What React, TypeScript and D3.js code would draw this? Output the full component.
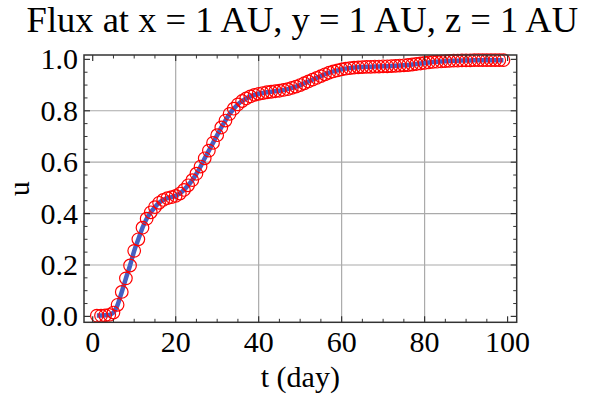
import React from "react";
import * as d3 from "d3";

const days: number[] = d3.range(1, 100);
const uValues: number[] = [
  0.003, 0.003, 0.004, 0.006, 0.015, 0.045, 0.095, 0.148, 0.198, 0.255,
  0.3, 0.345, 0.38, 0.405, 0.425, 0.442, 0.453, 0.46, 0.464, 0.469,
  0.478, 0.492, 0.51, 0.53, 0.555, 0.583, 0.615, 0.645, 0.675, 0.705,
  0.735, 0.762, 0.788, 0.808, 0.825, 0.838, 0.848, 0.856, 0.862, 0.866,
  0.869, 0.872, 0.874, 0.876, 0.878, 0.881, 0.884, 0.889, 0.894, 0.9,
  0.907, 0.914, 0.921, 0.928, 0.935, 0.942, 0.948, 0.953, 0.957, 0.961,
  0.964, 0.966, 0.968, 0.969, 0.97, 0.971, 0.971, 0.972, 0.972, 0.973,
  0.973, 0.974, 0.975, 0.976, 0.977, 0.978, 0.98, 0.982, 0.984, 0.986,
  0.988, 0.99, 0.991, 0.992, 0.993, 0.994, 0.995, 0.995, 0.996, 0.996,
  0.996, 0.997, 0.997, 0.997, 0.997, 0.997, 0.997, 0.997, 0.997,
];
const xTicks: number[] = [0, 20, 40, 60, 80, 100];
const yTicks: number[] = [0, 0.2, 0.4, 0.6, 0.8, 1.0];
const xGrid: number[] = [20, 40, 60, 80];
const yGrid: number[] = [0.2, 0.4, 0.6, 0.8];
const title = "Flux at x = 1 AU, y = 1 AU, z = 1 AU";
const xLabel = "t (day)";
const yLabel = "u";

const W = 591;
const H = 401;
const L = 84, R = 516.7, T = 55, B = 322.3;

export default function App() {
  const x = d3.scaleLinear().domain([-2.1, 102.2]).range([L, R]);
  const y = d3.scaleLinear().domain([-0.023, 1.017]).range([B, T]);
  const data = days.map((d, i) => ({ t: d, u: uValues[i] }));
  const line = d3
    .line<{ t: number; u: number }>()
    .x((d) => x(d.t))
    .y((d) => y(d.u))
    .curve(d3.curveMonotoneX);

  const xMinor = d3.range(0, 101, 5).filter((v) => v % 20 !== 0);
  const yMinor = d3.range(0, 21).map((v) => v * 0.05).filter((v, i) => i % 4 !== 0);
  const font = "'Liberation Serif', 'Times New Roman', serif";
  const frame = "#333";
  const major = 6, minor = 3.5;

  return (
    <svg
      width={W}
      height={H}
      style={{ position: "absolute", left: 0, top: 0, background: "#fff" }}
      fontFamily={font}
    >
      <rect x={0} y={0} width={W} height={H} fill="#fff" />
      <text x={(L + R) / 2 + 2} y={32} fontSize={36.5} textAnchor="middle" fill="#000">
        {title}
      </text>
      {xGrid.map((v) => (
        <line key={"gx" + v} x1={x(v)} x2={x(v)} y1={T} y2={B} stroke="#aaa" strokeWidth={1.2} />
      ))}
      {yGrid.map((v) => (
        <line key={"gy" + v} x1={L} x2={R} y1={y(v)} y2={y(v)} stroke="#aaa" strokeWidth={1.2} />
      ))}
      <path d={line(data) || ""} fill="none" stroke="#4660c2" strokeWidth={4.5} />
      {data.map((d) => (
        <circle key={"c" + d.t} cx={x(d.t)} cy={y(d.u)} r={6.3} fill="none" stroke="#ff0000" strokeWidth={1.2} />
      ))}
      <rect x={L} y={T} width={R - L} height={B - T} fill="none" stroke={frame} strokeWidth={1.5} />
      {xTicks.map((v) => (
        <g key={"xt" + v}>
          <line x1={x(v)} x2={x(v)} y1={B} y2={B - major} stroke={frame} strokeWidth={1.2} />
          <line x1={x(v)} x2={x(v)} y1={T} y2={T + major} stroke={frame} strokeWidth={1.2} />
          <text x={x(v)} y={352} fontSize={30} textAnchor="middle" fill="#000">
            {v}
          </text>
        </g>
      ))}
      {xMinor.map((v) => (
        <g key={"xm" + v}>
          <line x1={x(v)} x2={x(v)} y1={B} y2={B - minor} stroke={frame} strokeWidth={1} />
          <line x1={x(v)} x2={x(v)} y1={T} y2={T + minor} stroke={frame} strokeWidth={1} />
        </g>
      ))}
      {yTicks.map((v) => (
        <g key={"yt" + v}>
          <line x1={L} x2={L + major} y1={y(v)} y2={y(v)} stroke={frame} strokeWidth={1.2} />
          <line x1={R} x2={R - major} y1={y(v)} y2={y(v)} stroke={frame} strokeWidth={1.2} />
          <text x={78} y={y(v) + 10} fontSize={30} textAnchor="end" fill="#000">
            {d3.format(".1f")(v)}
          </text>
        </g>
      ))}
      {yMinor.map((v) => (
        <g key={"ym" + v}>
          <line x1={L} x2={L + minor} y1={y(v)} y2={y(v)} stroke={frame} strokeWidth={1} />
          <line x1={R} x2={R - minor} y1={y(v)} y2={y(v)} stroke={frame} strokeWidth={1} />
        </g>
      ))}
      <text x={(L + R) / 2} y={387} fontSize={30} textAnchor="middle" fill="#000">
        {xLabel}
      </text>
      <text
        transform={`translate(29, ${(T + B) / 2}) rotate(-90)`}
        fontSize={30}
        textAnchor="middle"
        fill="#000"
      >
        {yLabel}
      </text>
    </svg>
  );
}
